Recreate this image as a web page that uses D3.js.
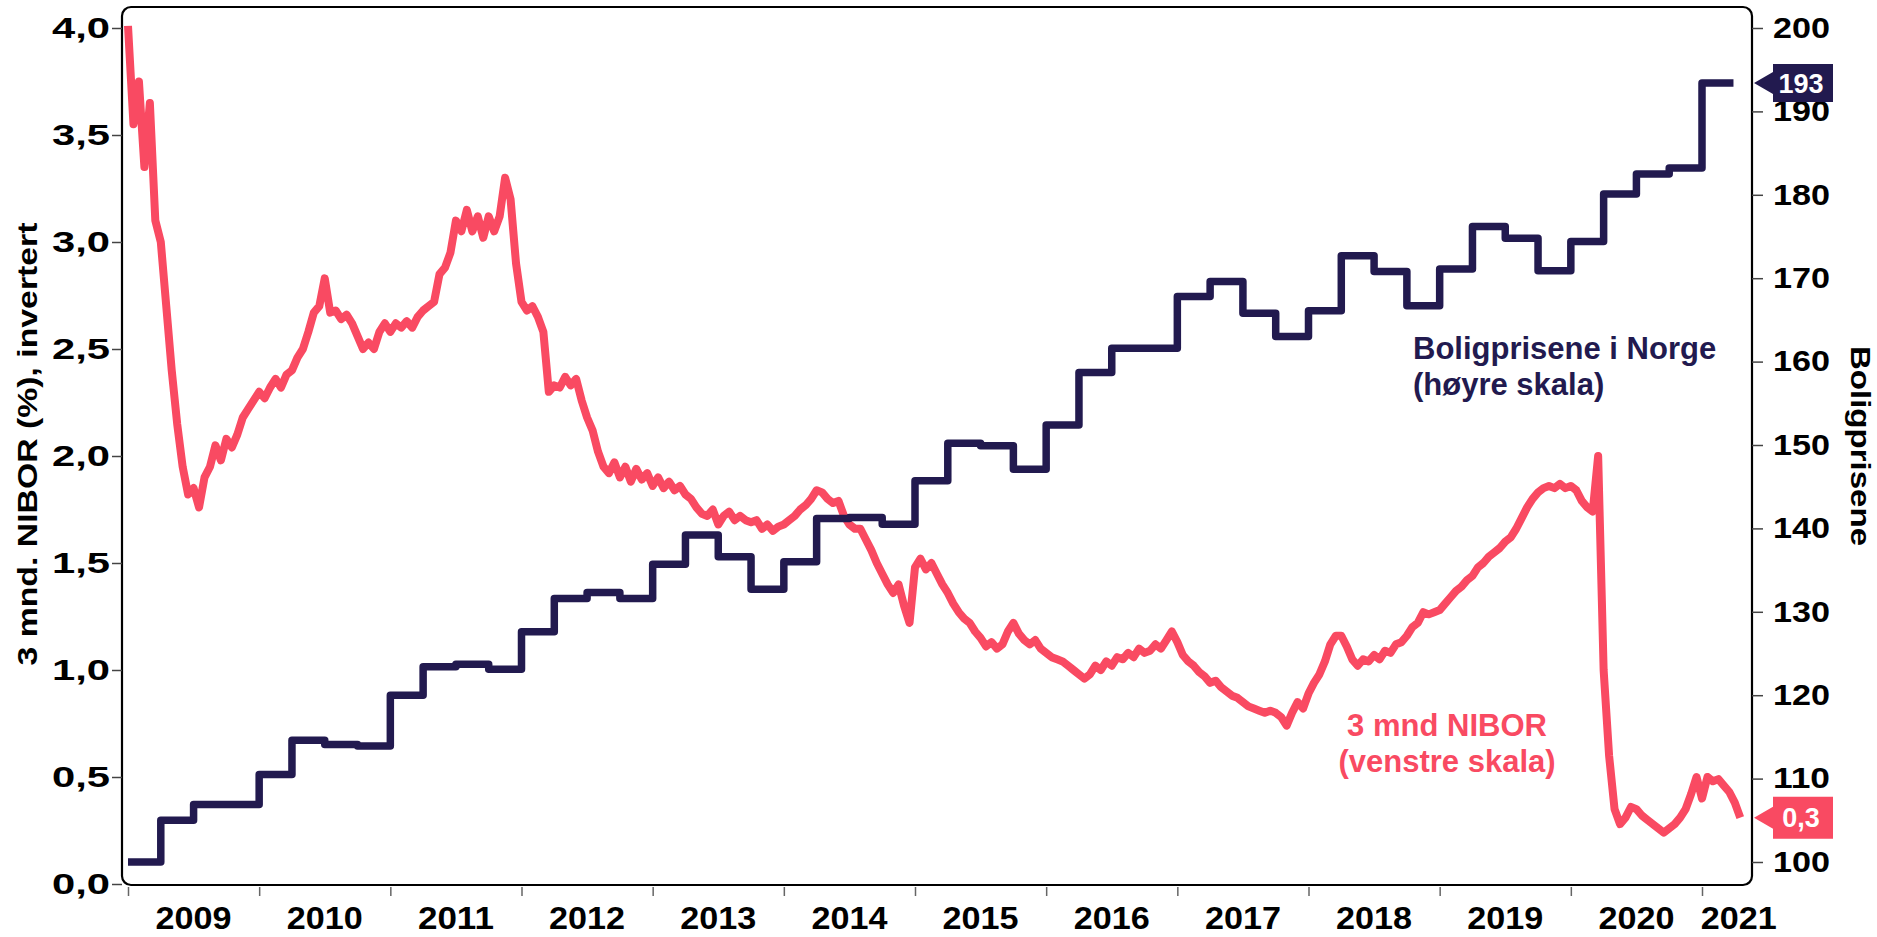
<!DOCTYPE html>
<html>
<head>
<meta charset="utf-8">
<script src="https://cdn.jsdelivr.net/npm/d3@7"></script>
<style>
  body { margin: 0; background: #fff; }
  svg text { font-family: "Liberation Sans", Arial, sans-serif; font-weight: bold; }
</style>
</head>
<body>
<svg id="chart" width="1877" height="937"></svg>
<script>
// ---- data ----
const yearTicks = [2009, 2010, 2011, 2012, 2013, 2014, 2015, 2016, 2017, 2018, 2019, 2020, 2021];
const yearLabels = ["2009", "2010", "2011", "2012", "2013", "2014", "2015", "2016", "2017", "2018", "2019", "2020", "2021"];
const niborTicks = [0, 0.5, 1, 1.5, 2, 2.5, 3, 3.5, 4];
const houseTicks = [100, 110, 120, 130, 140, 150, 160, 170, 180, 190, 200];

// 3 mnd NIBOR, half-monthly readings starting Jan 2009
const niborStart = 2009.0;
const niborStep = 1 / 24;
const niborValues = [
  4.01, 3.55, 3.75, 3.35, 3.65, 3.10, 3.00, 2.70, 2.40, 2.15, 1.95, 1.82, 1.85, 1.76, 1.90, 1.95,
  2.05, 1.98, 2.08, 2.04, 2.10, 2.18, 2.22, 2.26, 2.30, 2.27, 2.32, 2.36, 2.32, 2.38, 2.40, 2.46,
  2.50, 2.58, 2.67, 2.70, 2.83, 2.67, 2.68, 2.64, 2.66, 2.62, 2.56, 2.50, 2.53, 2.50, 2.58, 2.62,
  2.58, 2.62, 2.60, 2.63, 2.60, 2.65, 2.68, 2.70, 2.72, 2.85, 2.88, 2.95, 3.10, 3.05, 3.15, 3.05,
  3.12, 3.02, 3.12, 3.05, 3.12, 3.30, 3.20, 2.90, 2.72, 2.68, 2.70, 2.65, 2.58, 2.30, 2.33, 2.32,
  2.37, 2.33, 2.36, 2.26, 2.18, 2.12, 2.02, 1.95, 1.92, 1.97, 1.90, 1.95, 1.88, 1.94, 1.89, 1.92,
  1.86, 1.90, 1.85, 1.88, 1.84, 1.86, 1.82, 1.80, 1.76, 1.73, 1.72, 1.75, 1.68, 1.72, 1.74, 1.70,
  1.72, 1.70, 1.69, 1.70, 1.66, 1.68, 1.65, 1.67, 1.68, 1.70, 1.72, 1.75, 1.77, 1.80, 1.84, 1.83,
  1.80, 1.78, 1.79, 1.72, 1.68, 1.66, 1.66, 1.61, 1.56, 1.50, 1.45, 1.40, 1.36, 1.40, 1.30, 1.22,
  1.48, 1.52, 1.47, 1.50, 1.45, 1.40, 1.36, 1.31, 1.27, 1.24, 1.22, 1.18, 1.15, 1.11, 1.13, 1.10,
  1.12, 1.18, 1.22, 1.17, 1.14, 1.12, 1.14, 1.10, 1.08, 1.06, 1.05, 1.04, 1.02, 1.00, 0.98, 0.96,
  0.98, 1.02, 1.00, 1.04, 1.02, 1.06, 1.05, 1.08, 1.06, 1.10, 1.08, 1.09, 1.12, 1.10, 1.14, 1.18,
  1.13, 1.07, 1.04, 1.02, 0.99, 0.97, 0.94, 0.95, 0.92, 0.90, 0.88, 0.87, 0.85, 0.83, 0.82, 0.81,
  0.80, 0.81, 0.80, 0.78, 0.74, 0.80, 0.85, 0.82, 0.89, 0.94, 0.98, 1.04, 1.12, 1.16, 1.16, 1.11,
  1.05, 1.02, 1.05, 1.04, 1.07, 1.05, 1.09, 1.08, 1.12, 1.13, 1.16, 1.20, 1.22, 1.27, 1.26, 1.27,
  1.28, 1.31, 1.34, 1.37, 1.39, 1.42, 1.44, 1.48, 1.50, 1.53, 1.55, 1.57, 1.60, 1.62, 1.66, 1.71,
  1.76, 1.80, 1.83, 1.85, 1.86, 1.85, 1.87, 1.85, 1.86, 1.84, 1.79, 1.76, 1.74, 2.00, 1.00, 0.60,
  0.35, 0.28, 0.31, 0.36, 0.35, 0.32, 0.30, 0.28, 0.26, 0.24, 0.26, 0.28, 0.31, 0.35, 0.42, 0.50,
  0.40, 0.50, 0.48, 0.49, 0.46, 0.43, 0.38, 0.31
];

// Boligprisene, quarterly index starting Q1 2009
const houseStart = 2009.0;
const houseStep = 0.25;
const houseEnd = 2021.24;
const houseValues = [
  100.0, 105.0, 106.9, 106.9,
  110.5, 114.6, 114.1, 113.9,
  120.0, 123.4, 123.7, 123.1,
  127.6, 131.6, 132.3, 131.6,
  135.7, 139.2, 136.6, 132.7,
  136.0, 141.2, 141.3, 140.5,
  145.7, 150.2, 149.9, 147.1,
  152.4, 158.7, 161.6, 161.6,
  167.8, 169.6, 165.8, 163.0,
  166.1, 172.7, 170.8, 166.7,
  171.1, 176.2, 174.8, 170.9,
  174.4, 180.1, 182.5, 183.2,
  193.4
];

const niborColor = "#f94a62";
const houseColor = "#221a4f";

// ---- layout ----
const svg = d3.select("#chart");
const frame = { left: 122, right: 1752, top: 7, bottom: 885 };

const x = d3.scaleLinear().domain([2009, 2021]).range([128, 1702]);
const yL = d3.scaleLinear().domain([0, 4]).range([884, 28]);
const yR = d3.scaleLinear().domain([100, 200]).range([862, 28]);

const no = d3.formatLocale({ decimal: ",", thousands: " ", grouping: [3], currency: ["", " kr"] });
const fmt1 = no.format(".1f");
const fmt0 = no.format(".0f");

const nibor = niborValues.map((v, i) => ({ t: niborStart + i * niborStep, v: v }));
const house = houseValues.map((v, i) => ({ t: houseStart + i * houseStep, v: v }));
house.push({ t: houseEnd, v: houseValues[houseValues.length - 1] });

// frame
svg.append("rect")
  .attr("x", frame.left).attr("y", frame.top)
  .attr("width", frame.right - frame.left).attr("height", frame.bottom - frame.top)
  .attr("rx", 9).attr("ry", 9)
  .attr("fill", "none").attr("stroke", "#000").attr("stroke-width", 2.2);

// left axis
const gL = svg.append("g")
  .attr("transform", "translate(" + frame.left + ",0)")
  .call(d3.axisLeft(yL).tickValues(niborTicks).tickSize(10).tickPadding(2).tickFormat(fmt1));
gL.select(".domain").remove();
gL.selectAll(".tick line").attr("stroke", "#444").attr("stroke-width", 1.5);
gL.selectAll(".tick text")
  .attr("fill", "#000").style("font-size", "29px")
  .attr("textLength", 58).attr("lengthAdjust", "spacingAndGlyphs");

// right axis
const gR = svg.append("g")
  .attr("transform", "translate(" + frame.right + ",0)")
  .call(d3.axisRight(yR).tickValues(houseTicks).tickSize(11).tickPadding(10).tickFormat(fmt0));
gR.select(".domain").remove();
gR.selectAll(".tick line").attr("stroke", "#444").attr("stroke-width", 1.5);
gR.selectAll(".tick text")
  .attr("fill", "#000").style("font-size", "29px")
  .attr("textLength", 57).attr("lengthAdjust", "spacingAndGlyphs");

// bottom axis: ticks at year starts, labels in the middle of each year
const gB = svg.append("g")
  .attr("transform", "translate(0,887)")
  .call(d3.axisBottom(x).tickValues(yearTicks).tickSize(9).tickFormat(""));
gB.select(".domain").remove();
gB.selectAll(".tick line").attr("stroke", "#666").attr("stroke-width", 1.5);

svg.append("g").selectAll("text")
  .data(yearLabels)
  .enter().append("text")
  .attr("x", (d, i) => i < yearLabels.length - 1 ? x(yearTicks[i] + 0.5) : x(yearTicks[i] + 0.28))
  .attr("y", 929)
  .attr("text-anchor", "middle")
  .style("font-size", "31px")
  .attr("textLength", 76).attr("lengthAdjust", "spacingAndGlyphs")
  .text(d => d);

// axis titles
svg.append("text")
  .attr("transform", "translate(37,444) rotate(-90)")
  .attr("text-anchor", "middle")
  .style("font-size", "28px")
  .attr("textLength", 443).attr("lengthAdjust", "spacingAndGlyphs")
  .text("3 mnd. NIBOR (%), invertert");

svg.append("text")
  .attr("transform", "translate(1851,446) rotate(90)")
  .attr("text-anchor", "middle")
  .style("font-size", "28px")
  .attr("textLength", 200).attr("lengthAdjust", "spacingAndGlyphs")
  .text("Boligprisene");

// lines
const lineL = d3.line().x(d => x(d.t)).y(d => yL(d.v));
const lineR = d3.line().x(d => x(d.t)).y(d => yR(d.v)).curve(d3.curveStepAfter);

svg.append("path")
  .datum(nibor)
  .attr("d", lineL)
  .attr("fill", "none")
  .attr("stroke", niborColor)
  .attr("stroke-width", 8)
  .attr("stroke-linejoin", "round");

svg.append("path")
  .datum(house)
  .attr("d", lineR)
  .attr("fill", "none")
  .attr("stroke", houseColor)
  .attr("stroke-width", 7.5)
  .attr("stroke-linejoin", "round");

// series labels
const houseLabel = svg.append("text").attr("fill", houseColor).style("font-size", "31px");
houseLabel.append("tspan").attr("x", 1413).attr("y", 359).text("Boligprisene i Norge");
houseLabel.append("tspan").attr("x", 1413).attr("y", 395).text("(høyre skala)");

const niborLabel = svg.append("text").attr("fill", niborColor).style("font-size", "31px").attr("text-anchor", "middle");
niborLabel.append("tspan").attr("x", 1447).attr("y", 736).text("3 mnd NIBOR");
niborLabel.append("tspan").attr("x", 1447).attr("y", 772).text("(venstre skala)");

// end-value tags on the right axis
function tag(yPos, h, color, label) {
  const x0 = frame.right + 2, x1 = 1773, x2 = 1833;
  svg.append("path")
    .attr("d", "M" + x0 + "," + yPos + "L" + x1 + "," + (yPos - 11) + "L" + x1 + "," + (yPos - h / 2) +
      "L" + x2 + "," + (yPos - h / 2) + "L" + x2 + "," + (yPos + h / 2) + "L" + x1 + "," + (yPos + h / 2) +
      "L" + x1 + "," + (yPos + 11) + "Z")
    .attr("fill", color);
  svg.append("text")
    .attr("x", (x1 + x2) / 2 - 2).attr("y", yPos + 9.5)
    .attr("text-anchor", "middle")
    .attr("fill", "#fff")
    .style("font-size", "27px")
    .text(label);
}
const lastHouse = houseValues[houseValues.length - 1];
const lastNibor = niborValues[niborValues.length - 1];
tag(yR(lastHouse), 38, houseColor, fmt0(lastHouse));
tag(yL(lastNibor), 42, niborColor, fmt1(lastNibor));
</script>
</body>
</html>
